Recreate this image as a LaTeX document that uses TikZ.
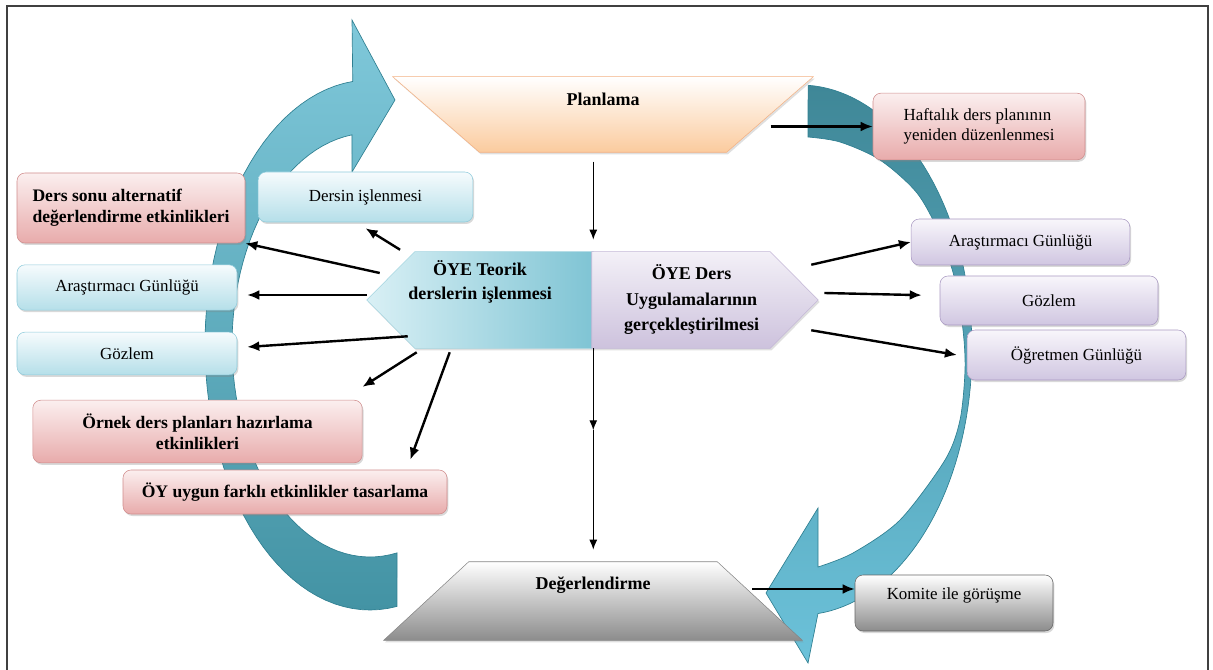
\documentclass[tikz,border=0pt]{standalone}
\usepackage{fontspec}
\setmainfont{Liberation Serif}
\usetikzlibrary{shapes, arrows.meta, positioning, calc, shadows, backgrounds}

\definecolor{ringline}{HTML}{2F7F91}
\definecolor{ringltop}{HTML}{7FC8DA}
\definecolor{ringlbot}{HTML}{4393A4}
\definecolor{ringrtop}{HTML}{3F8797}
\definecolor{ringrbot}{HTML}{6CC2DA}
\definecolor{planline}{HTML}{F4B183}
\definecolor{planbot}{HTML}{FBCB9E}
\definecolor{pinkline}{HTML}{D08C8C}
\definecolor{pinktop}{HTML}{FBEFEF}
\definecolor{pinkbot}{HTML}{E8ABAB}
\definecolor{blueline}{HTML}{8FCBDB}
\definecolor{bluetop}{HTML}{F6FBFD}
\definecolor{bluebot}{HTML}{B5DFE9}
\definecolor{lilacline}{HTML}{A999C2}
\definecolor{lilactop}{HTML}{F8F6FB}
\definecolor{lilacbot}{HTML}{D0C6E1}
\definecolor{greyline}{HTML}{666666}
\definecolor{greybot}{HTML}{8C8C8C}
\definecolor{hexlline}{HTML}{A5D5E0}
\definecolor{hexlleft}{HTML}{D9F0F5}
\definecolor{hexlright}{HTML}{7FC4D4}
\definecolor{hexrline}{HTML}{C3B6D6}
\definecolor{hexrtop}{HTML}{F3F0F7}
\definecolor{hexrbot}{HTML}{CDC2DD}

\newcommand{\uptext}[2]{\raisebox{#1}[0pt][0pt]{#2}}

\begin{document}
\begin{tikzpicture}[x=0.75pt, y=-0.75pt,
    font=\fontsize{12.7}{15.5}\selectfont,
    cardbox/.style={draw, rounded corners=6pt, align=center, inner sep=2pt,
        drop shadow={shadow xshift=1pt, shadow yshift=-1.5pt, opacity=0.3}},
    pinkbox/.style={cardbox, draw=pinkline, top color=pinktop, bottom color=pinkbot,
        font=\fontsize{13.2}{15.5}\selectfont\bfseries},
    bluebox/.style={cardbox, draw=blueline, top color=bluetop, bottom color=bluebot},
    lilacbox/.style={cardbox, draw=lilacline, top color=lilactop, bottom color=lilacbot},
    greybox/.style={cardbox, draw=greyline, top color=white, bottom color=greybot},
    bigtext/.style={font=\fontsize{13.5}{18}\selectfont\bfseries},
    ring/.style={draw=ringline, line width=0.5pt},
    arr/.style={-{Latex[length=9pt,width=7.5pt]}, line width=1.8pt},
    thinarr/.style={-{Latex[length=7.5pt,width=6pt]}, line width=0.9pt}]

\useasboundingbox (0,0) rectangle (1213,670);
\draw[line width=1.5pt, black!75] (7,670) -- (7,6) -- (1208,6) -- (1208,670);

% cycle arrows
\begin{scope}[on background layer]
    \path[ring, top color=ringltop, bottom color=ringlbot]
        plot[domain=80.6:264, samples=60] ({370+165*cos(\x)},{345+265*sin(\x)})
        -- (352,20) -- (395,100) -- (352,172)
        -- plot[domain=262.5:78.7, samples=60] ({370+138*cos(\x)},{345+212*sin(\x)}) -- cycle;
    \path[ring, top color=ringrtop, bottom color=ringrbot]
        plot[domain=-87.3:84, samples=80] ({800+172*cos(\x)},{350+265*sin(\x)})
        -- (808,663) -- (766,593) -- (818,508)
        -- plot[smooth] coordinates {(818,567) (853,553) (900,520) (945,460) (960,420)
            (965,370) (963,330) (955,280) (940,235) (917,193) (880,160) (840,142) (808,137)}
        -- cycle;
\end{scope}

% main steps
\node[bigtext, minimum width=315pt, minimum height=56.25pt] (plan) at (603,114.5) {\uptext{6.5pt}{Planlama}};
\node[bigtext, minimum width=169.5pt, minimum height=72pt] (hexL) at (480,300)
    {\uptext{9.5pt}{\begin{tabular}{@{}c@{}}ÖYE Teorik\\derslerin işlenmesi\end{tabular}}};
\node[bigtext, font=\fontsize{13.5}{19}\selectfont\bfseries, minimum width=169.5pt, minimum height=72pt] (hexR) at (705,300)
    {\begin{tabular}{@{}c@{}}ÖYE Ders\\Uygulamalarının\\gerçekleştirilmesi\end{tabular}\hspace*{20pt}};
\node[bigtext, minimum width=313.5pt, minimum height=58.5pt] (deger) at (593,601) {\uptext{9pt}{Değerlendirme}};

\begin{scope}[on background layer]
    \path[draw=planline, top color=white, bottom color=planbot,
        drop shadow={shadow xshift=1pt, shadow yshift=-1.5pt, opacity=0.25}]
        (plan.north west) -- (plan.north east) -- ([xshift=-65pt]plan.south east)
        -- ([xshift=65pt]plan.south west) -- cycle;
    \path[draw=greyline!80, top color=white, bottom color=greybot,
        drop shadow={shadow xshift=1pt, shadow yshift=-1.5pt, opacity=0.25}]
        ([xshift=63.75pt]deger.north west) -- ([xshift=-63.75pt]deger.north east)
        -- (deger.south east) -- (deger.south west) -- cycle;
    \path[draw=hexlline, left color=hexlleft, right color=hexlright,
        drop shadow={shadow xshift=1pt, shadow yshift=-1.5pt, opacity=0.25}]
        (hexL.north east) -- ([xshift=36pt]hexL.north west) -- (hexL.west)
        -- ([xshift=36pt]hexL.south west) -- (hexL.south east) -- cycle;
    \path[draw=hexrline, top color=hexrtop, bottom color=hexrbot,
        drop shadow={shadow xshift=1pt, shadow yshift=-1.5pt, opacity=0.25}]
        (hexR.north west) -- ([xshift=-36pt]hexR.north east) -- (hexR.east)
        -- ([xshift=-36pt]hexR.south east) -- (hexR.south west) -- cycle;
\end{scope}

% boxes left
\node[pinkbox, align=left, minimum width=171pt, minimum height=52.5pt] (derssonu) at (131,208) {Ders sonu alternatif\\değerlendirme etkinlikleri};
\node[bluebox, minimum width=161pt, minimum height=37.5pt] (dersin) at (365.5,197) {Dersin işlenmesi};
\node[bluebox, minimum width=165pt, minimum height=34pt] (araL) at (127,287.5) {Araştırmacı Günlüğü};
\node[bluebox, minimum width=165pt, minimum height=32pt] (gozL) at (127,353.5) {Gözlem};
\node[pinkbox, minimum width=247pt, minimum height=47pt] (ornek) at (197.5,431.5) {Örnek ders planları hazırlama\\etkinlikleri};
\node[pinkbox, minimum width=243pt, minimum height=33pt] (oy) at (285,492) {ÖY uygun farklı etkinlikler tasarlama};

% boxes right
\node[pinkbox, font=\fontsize{12.7}{15.5}\selectfont, align=left, minimum width=159pt, minimum height=50pt] (haft) at (979,126.5) {Haftalık ders planının\\yeniden düzenlenmesi};
\node[lilacbox, minimum width=164pt, minimum height=34.5pt] (araR) at (1020.5,242) {Araştırmacı Günlüğü};
\node[lilacbox, minimum width=163.5pt, minimum height=36.75pt] (gozR) at (1049,300.5) {Gözlem};
\node[lilacbox, minimum width=164pt, minimum height=37.5pt] (ogrR) at (1076.5,355) {Öğretmen Günlüğü};
\node[greybox, minimum width=148.5pt, minimum height=42pt] (komite) at (954,603) {\uptext{3pt}{Komite ile görüşme}};

% connectors
\draw[arr] ([xshift=-32pt]plan.east |- haft.west) -- (haft.west);
\draw[thinarr, shorten <=7pt, shorten >=9pt] (plan.south -| hexL.north east) -- (hexL.north east);
\coordinate (mid) at ($(hexL.south east)+(0,82)$);
\draw[thinarr] (hexL.south east) -- (mid);
\draw[thinarr, shorten >=9pt] (mid) -- (mid |- deger.north);
\draw[arr] ([xshift=-37.5pt, yshift=9pt]deger.east) -- ([yshift=9pt]deger.east -| komite.west);

\draw[arr] ([xshift=25pt, yshift=1.5pt]hexL.north west) -- ([yshift=-4.5pt]dersin.south);
\draw[arr] ([xshift=9.75pt, yshift=20.25pt]hexL.west) -- (derssonu.south east);
\draw[arr, shorten >=7.5pt] ([yshift=3.75pt]hexL.west) -- ([yshift=3.75pt]hexL.west -| araL.east);
\draw[arr] ([xshift=30.75pt, yshift=9pt]hexL.south west) -- ([xshift=7.5pt, yshift=4.9pt]gozL.east);
\draw[arr] ([xshift=37.5pt, yshift=-3pt]hexL.south west) -- ([yshift=9.75pt]ornek.north east);
\draw[arr] ([xshift=62.25pt, yshift=-3pt]hexL.south west) -- ([xshift=-27.75pt, yshift=7.5pt]oy.north east);

\draw[arr] ([xshift=-5.25pt, yshift=-9.75pt]hexR.north east) -- (araR.west);
\draw[arr] ([xshift=4.5pt, yshift=5.25pt]hexR.east) -- ([xshift=-13.5pt, yshift=4pt]gozR.west);
\draw[arr] ([xshift=-5.25pt, yshift=13.5pt]hexR.south east) -- ([xshift=-7.5pt]ogrR.west);
\end{tikzpicture}
\end{document}
